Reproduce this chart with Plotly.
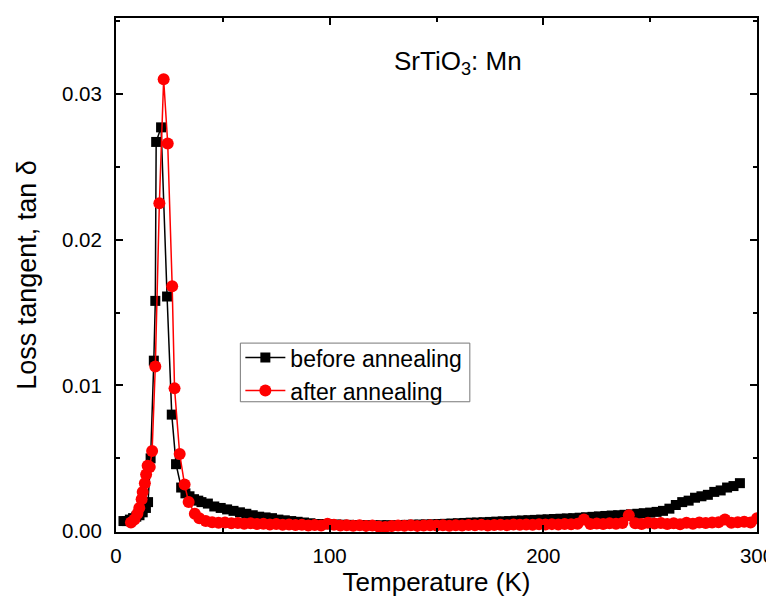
import plotly.graph_objects as go

# ---- data: before annealing (black squares) ----
T_before = [3.5, 5, 6.5, 8, 9.5, 11, 12.5, 14, 15, 16.2, 17.7, 18.4, 18.8, 21.1, 23.9, 26.1, 28.1,
            30.5, 32.5, 34.4, 36.5, 38.5,
            40, 43, 46, 49, 52, 55, 58, 61, 64, 67, 70, 73, 76, 79, 82, 85, 88, 91, 94, 97,
            100, 103, 106, 109, 112, 115, 118, 121, 124, 127, 130, 133, 136, 139, 142, 145, 148,
            151, 154, 157, 160, 163, 166, 169, 172, 175, 178, 181, 184, 187, 190, 193, 196, 199,
            202, 205, 208, 211, 214, 217, 220, 223, 226, 229, 232, 235, 238, 241, 244, 247, 250,
            253, 256, 259, 262, 265, 268, 271, 274, 277, 280, 283, 286, 289, 292]
tan_before = [0.0007, 0.0007, 0.0008, 0.0009, 0.0010, 0.0011, 0.0013, 0.0016, 0.0020, 0.0050,
              0.0117, 0.0158, 0.0267, 0.0277, 0.0161, 0.0080, 0.0046,
              0.0030, 0.0026, 0.0024, 0.0022, 0.0021,
              0.0020, 0.0019, 0.0017, 0.0016, 0.0015, 0.0014, 0.0013, 0.0012, 0.0011, 0.0010,
              0.00095, 0.0009, 0.0008, 0.00075, 0.0007, 0.00065, 0.0006, 0.00055, 0.0005, 0.0005,
              0.00048, 0.00046, 0.00045, 0.00044, 0.00043, 0.00042, 0.00042, 0.00041, 0.00041,
              0.00042, 0.00042, 0.00043, 0.00044, 0.00045, 0.00046, 0.00047, 0.00048,
              0.0005, 0.00051, 0.00053, 0.00055, 0.00057, 0.00059, 0.0006, 0.00062, 0.00064,
              0.00066, 0.00068, 0.0007, 0.00072, 0.00074, 0.00076, 0.00078, 0.0008,
              0.00082, 0.00084, 0.00086, 0.00088, 0.0009, 0.00093, 0.00096, 0.00099, 0.00102,
              0.00105, 0.00108, 0.0011, 0.00113, 0.00116, 0.0012, 0.00124, 0.00128,
              0.00133, 0.0014, 0.00155, 0.0018, 0.0020, 0.0021, 0.0023, 0.0024, 0.0025,
              0.0027, 0.0028, 0.0030, 0.0031, 0.0033]

# ---- data: after annealing (red circles) ----
T_after = [7, 8.6, 10, 10.9, 12, 12.5, 13.5, 14.1, 14.8, 15.8, 16.9, 18.4, 20.3, 22.3, 24.2, 26.3,
           27.4, 29.8, 32.1, 34, 36.9, 39,
           42, 45, 48, 51, 54, 57, 60, 63, 66, 69, 72, 75, 78, 81, 84, 87, 90, 93, 96, 99,
           102, 105, 108, 111, 114, 117, 120, 123, 126, 129, 132, 135, 138, 141, 144, 147, 150,
           153, 156, 159, 162, 165, 168, 171, 174, 177, 180, 183, 186, 189, 192, 195, 198,
           201, 204, 207, 210, 213, 216, 219, 222, 225, 228, 231, 234, 237, 240, 243, 246, 249,
           252, 255, 258, 261, 264, 267, 270, 273, 276, 279, 282, 285, 288, 291, 294, 297, 300]
tan_after = [0.0006, 0.0008, 0.0012, 0.0016, 0.0022, 0.0027, 0.0033, 0.0039, 0.0045, 0.0044,
             0.0055, 0.0113, 0.0225, 0.0310, 0.0266, 0.0168,
             0.0098, 0.0053, 0.0032, 0.0020, 0.0012, 0.0009,
             0.0007, 0.00062, 0.00058, 0.0006, 0.00055, 0.00057, 0.00052, 0.00055, 0.0005,
             0.00052, 0.00047, 0.0005, 0.00045, 0.00047, 0.00043, 0.00045, 0.0004, 0.00043,
             0.0004, 0.00052,
             0.00045, 0.0004, 0.00042, 0.00038, 0.00041, 0.00037, 0.0004, 0.00032, 0.0003,
             0.00036, 0.0004, 0.00038, 0.00041, 0.00037, 0.0004, 0.00042, 0.00039,
             0.00041, 0.00038, 0.00042, 0.0004, 0.00043, 0.00041, 0.00044, 0.0004, 0.00043,
             0.00045, 0.00042, 0.00046, 0.00044, 0.00047, 0.00045, 0.00048,
             0.00046, 0.00049, 0.00047, 0.0005, 0.00048, 0.00052, 0.0008, 0.0005, 0.00053,
             0.0005, 0.00055, 0.00052, 0.00056, 0.0011, 0.00055, 0.0005, 0.00058,
             0.00054, 0.00057, 0.0005, 0.00055, 0.00048, 0.00058, 0.00052, 0.0006, 0.00056,
             0.0006, 0.00062, 0.0008, 0.00058, 0.00062, 0.00065, 0.0006, 0.0009]

x_ticks = [0, 100, 200, 300]
y_ticks = [0.00, 0.01, 0.02, 0.03]
y_tick_labels = ["0.00", "0.01", "0.02", "0.03"]

FONT = "Arial, Liberation Sans, sans-serif"

fig = go.Figure()
fig.add_trace(go.Scatter(
    x=T_before, y=tan_before, mode="lines+markers", name="before annealing",
    line=dict(color="black", width=1.5),
    marker=dict(symbol="square", size=10, color="black"),
))
fig.add_trace(go.Scatter(
    x=T_after, y=tan_after, mode="lines+markers", name="after annealing",
    line=dict(color="#ff0000", width=1.5),
    marker=dict(symbol="circle", size=12, color="#ff0000"),
))

axis_common = dict(
    showline=True, linecolor="black", linewidth=2, mirror="allticks",
    ticks="inside", ticklen=7, tickwidth=1.5, tickcolor="black",
    showgrid=False, zeroline=False,
    tickfont=dict(family=FONT, size=20.5, color="black"),
)

fig.update_xaxes(
    range=[0, 300], tickvals=x_ticks, ticklabelstandoff=4,
    minor=dict(ticks="inside", ticklen=4, tickwidth=1.5, tickcolor="black", dtick=50),
    title=dict(text="Temperature (K)", font=dict(family=FONT, size=26, color="black"), standoff=6),
    **axis_common,
)
fig.update_yaxes(
    range=[-0.00005, 0.0352], tickvals=y_ticks, ticktext=y_tick_labels, ticklabelstandoff=8,
    minor=dict(ticks="inside", ticklen=4, tickwidth=1.5, tickcolor="black", dtick=0.005, tick0=0),
    title=dict(text="Loss tangent, tan δ", font=dict(family=FONT, size=27, color="black"), standoff=18),
    **axis_common,
)

fig.add_annotation(
    text="SrTiO<sub>3</sub>: Mn", x=0.534, y=0.913, xref="paper", yref="paper",
    xanchor="center", yanchor="middle", showarrow=False,
    font=dict(family=FONT, size=26, color="black"),
)

# legend frame (drawn as a shape so its padding matches the reference)
fig.add_shape(
    type="rect", xref="paper", yref="paper",
    x0=0.194, x1=0.552, y0=0.2534, y1=0.3675,
    line=dict(color="#777777", width=1), fillcolor="white", layer="above",
)

fig.update_layout(
    width=774, height=598,
    margin=dict(l=108, r=19, t=8, b=74),
    paper_bgcolor="white", plot_bgcolor="white",
    showlegend=True,
    legend=dict(
        x=0.194, y=0.381, xanchor="left", yanchor="top",
        bgcolor="rgba(0,0,0,0)", borderwidth=0,
        font=dict(family=FONT, size=23, color="black"),
        tracegroupgap=0, itemsizing="trace", itemwidth=40,
    ),
)

fig.write_html("out.html")
